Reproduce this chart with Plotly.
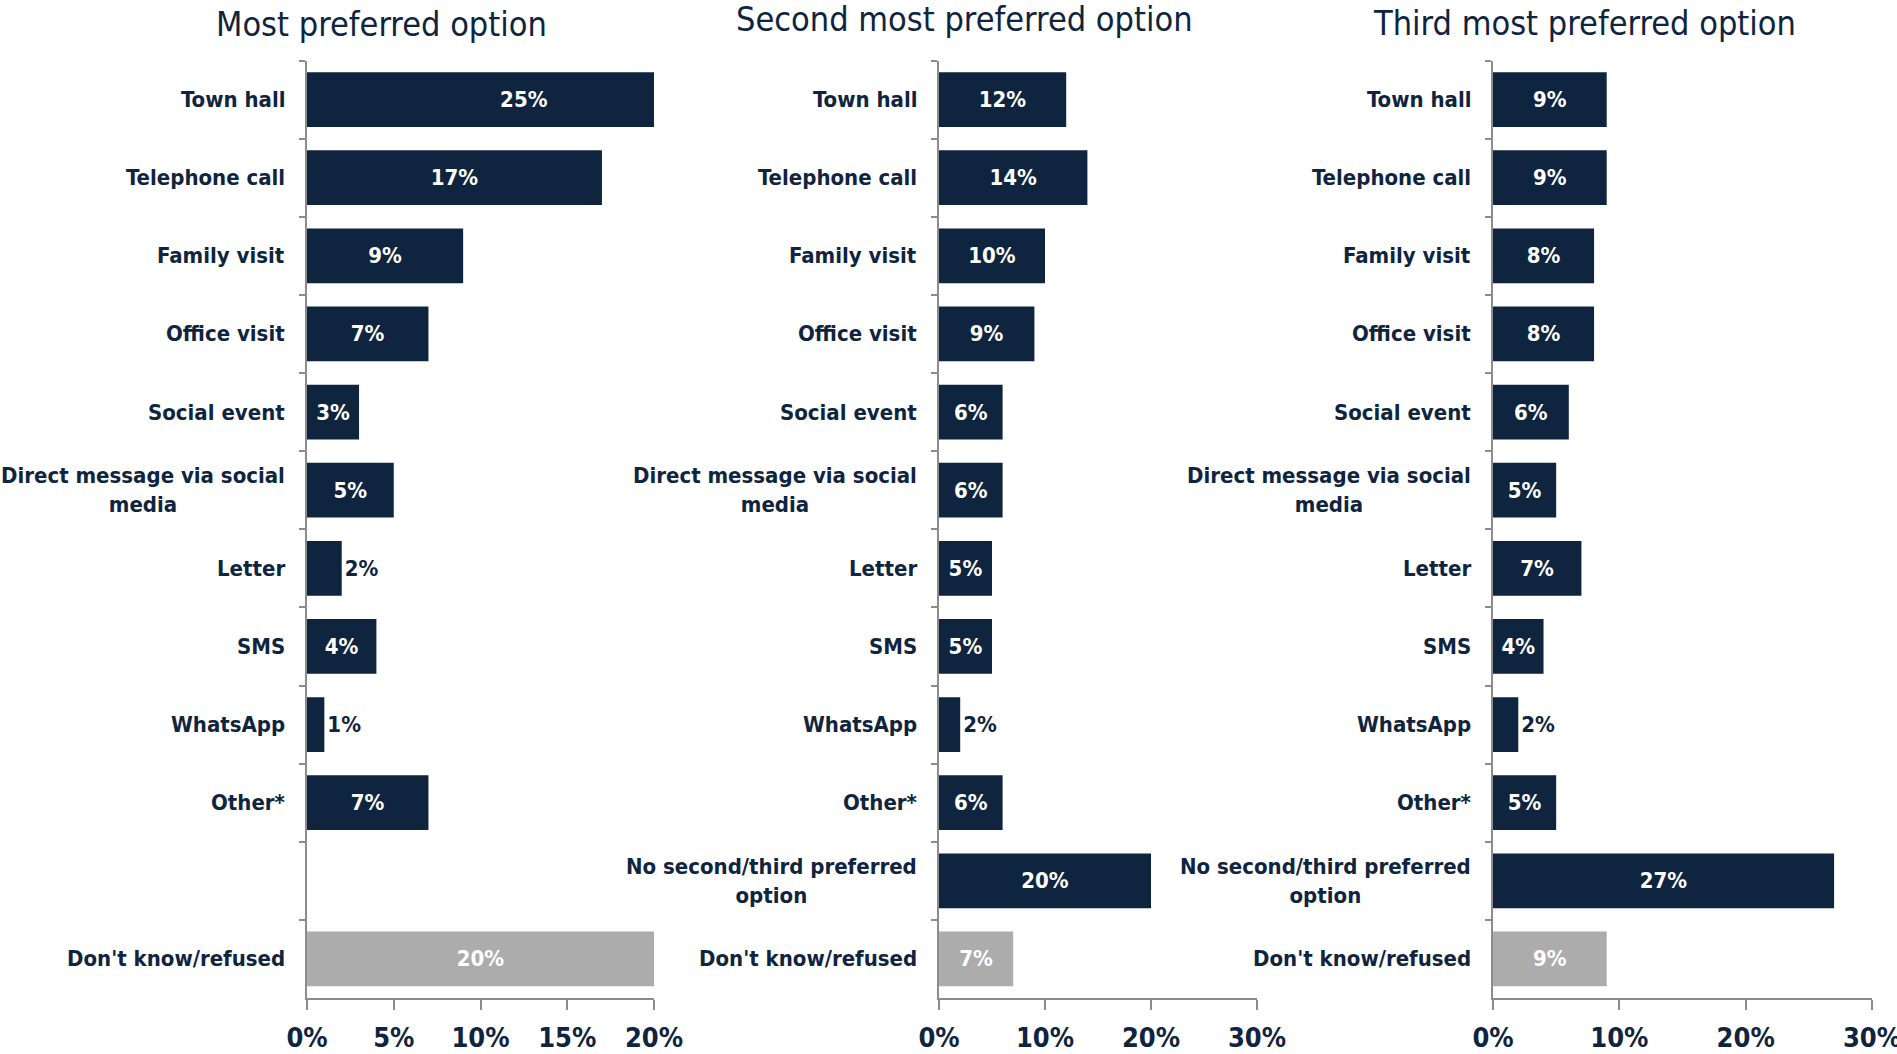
import plotly.graph_objects as go

categories = ["Town hall", "Telephone call", "Family visit", "Office visit", "Social event",
              "Direct message via social media", "Letter", "SMS", "WhatsApp", "Other*",
              "No second/third preferred option", "Don't know/refused"]
cat_labels = ["Town hall", "Telephone call", "Family visit", "Office visit", "Social event",
              "Direct message via social<br>media", "Letter", "SMS", "WhatsApp", "Other*",
              "No second/third preferred<br>option", "Don't know/refused"]

most_preferred = [25, 17, 9, 7, 3, 5, 2, 4, 1, 7, None, 20]
second_preferred = [12, 14, 10, 9, 6, 6, 5, 5, 2, 6, 20, 7]
third_preferred = [9, 9, 8, 8, 6, 5, 7, 4, 2, 5, 27, 9]

titles = ["Most preferred option", "Second most preferred option", "Third most preferred option"]
x_max = [20, 30, 30]
x_dtick = [5, 10, 10]

NAVY = "#0f243e"
GRAY = "#acacac"
AXIS = "#8c8c8c"
FONT = "DejaVu Sans Condensed"

W, H = 1897, 1054
x_px = [(307, 654), (939, 1257), (1493, 1872)]
x_domains = [[a / W, b / W] for a, b in x_px]
y_domain = [1 - 998 / H, 1 - 60.5 / H]
title_pos = [(381, 24), (964, 19), (1584, 23)]

fig = go.Figure()
series = [most_preferred, second_preferred, third_preferred]
bar_colors = [NAVY] * (len(categories) - 1) + [GRAY]

annotations = []
for i, vals in enumerate(series):
    n = "" if i == 0 else str(i + 1)
    texts = ["" if v is None else f"{v}%" for v in vals]
    px_per_unit = (x_px[i][1] - x_px[i][0]) / x_max[i]
    positions = ["inside" if (v is None or v * px_per_unit >= 45) else "outside" for v in vals]
    fig.add_trace(go.Bar(
        x=vals, y=categories, orientation="h",
        marker=dict(color=bar_colors, line=dict(width=0)),
        text=texts, texttemplate="%{text}", textposition=positions, textangle=0,
        insidetextanchor="middle", constraintext="none", cliponaxis=True,
        insidetextfont=dict(color="white", size=22, family=FONT, weight="bold"),
        outsidetextfont=dict(color=NAVY, size=22, family=FONT, weight="bold"),
        xaxis="x" + n, yaxis="y" + n, showlegend=False, hoverinfo="skip",
    ))
    fig.update_layout(**{
        "xaxis" + n: dict(domain=x_domains[i], range=[0, x_max[i]], dtick=x_dtick[i],
                          ticksuffix="%", showgrid=False, zeroline=False, automargin=False,
                          showline=True, linecolor=AXIS, linewidth=1.5,
                          ticks="outside", ticklen=10, tickcolor=AXIS, tickwidth=1.5,
                          ticklabeloverflow="allow", ticklabelstandoff=5,
                          tickfont=dict(size=27, color=NAVY, family=FONT, weight="bold"),
                          anchor="y" + n, fixedrange=True),
        "yaxis" + n: dict(domain=y_domain, categoryorder="array", categoryarray=categories,
                          type="category", range=[len(categories) - 0.5, -0.5],
                          showticklabels=False, showgrid=False, zeroline=False, automargin=False,
                          showline=True, linecolor=AXIS, linewidth=1.5,
                          ticks="outside", tickson="boundaries", ticklen=6,
                          tickcolor=AXIS, tickwidth=1.5,
                          anchor="x" + n, fixedrange=True),
    })
    for c, lab, v in zip(categories, cat_labels, vals):
        if v is None:
            continue
        annotations.append(dict(
            xref="x" + n + " domain", yref="y" + n, x=0, y=c,
            xanchor="right", yanchor="middle", xshift=-20,
            text=lab, showarrow=False, align="center",
            font=dict(size=22, color=NAVY, family=FONT, weight="bold"),
        ))
    tx, ty = title_pos[i]
    annotations.append(dict(
        xref="paper", yref="paper", x=tx / W, y=1 - ty / H,
        xanchor="center", yanchor="middle", text=titles[i], showarrow=False,
        font=dict(size=34, color=NAVY, family=FONT),
    ))

fig.update_layout(
    width=W, height=H, autosize=False,
    margin=dict(l=0, r=0, t=0, b=0),
    paper_bgcolor="white", plot_bgcolor="white",
    bargap=0.3,
    annotations=annotations,
    font=dict(family=FONT, color=NAVY),
)

fig.write_html("out.html", config={"displayModeBar": False},
               post_script="document.body.style.margin='0';document.body.style.overflow='hidden';")
